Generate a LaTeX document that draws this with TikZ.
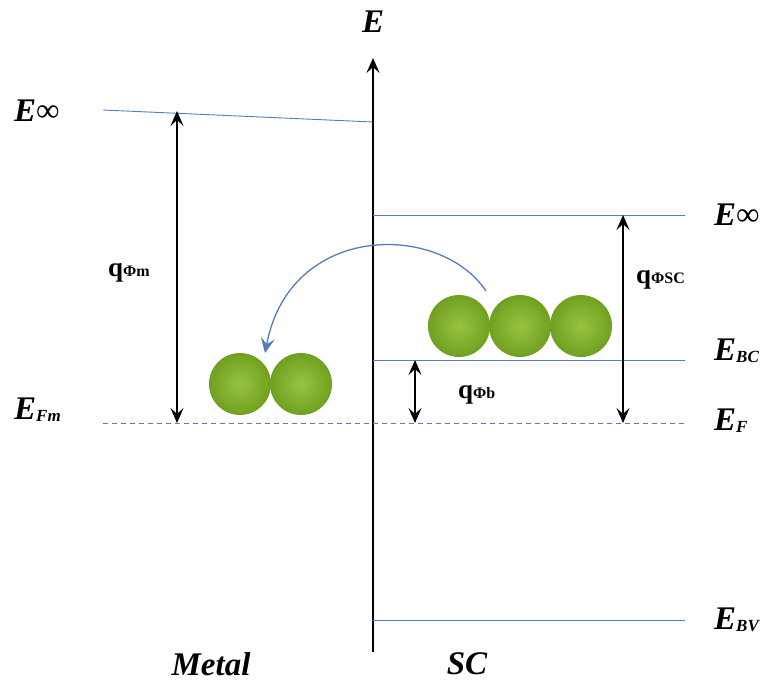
\documentclass[tikz,border=0pt]{standalone}
\usepackage{fontspec}
\setmainfont{Liberation Serif}
\usetikzlibrary{arrows.meta,positioning}

\definecolor{levelblue}{RGB}{84,126,186}
\definecolor{ballin}{RGB}{150,196,64}
\definecolor{ballout}{RGB}{112,160,32}

\newcommand{\lvl}[2]{{\bfseries\itshape #1\raisebox{-0.15ex}{\fontsize{17}{17}\selectfont #2}}}
\newcommand{\qphi}[1]{{\bfseries q\fontsize{16}{16}\selectfont Φ#1}}

\begin{document}
\begin{tikzpicture}[x=1pt,y=-1pt,
    level/.style={levelblue,line width=0.9pt},
    gap/.style={>={Stealth[length=15pt,width=13pt,inset=6pt]},<->,line width=1.4pt},
    label/.style={font=\fontsize{33}{33}\selectfont,inner sep=0pt},
    qlabel/.style={font=\fontsize{27}{27}\selectfont,inner sep=0pt},
    electron/.style={circle,minimum size=62pt,inner sep=0pt,
        inner color=ballin,outer color=ballout}]
    \useasboundingbox (0,0) rectangle (767,682);

    % energy axis
    \coordinate (ax0) at (373,652);
    \coordinate (ax1) at (373,58);
    \draw[>={Stealth[length=15pt,width=13pt,inset=6pt]},->,line width=2.4pt] (ax0) -- (ax1);
    \node[label] (E) at (373,22) {\bfseries\itshape E};

    % metal side
    \coordinate (vm0) at (103,110);
    \coordinate (vm1) at (373,122);
    \draw[level] (vm0) -- (vm1);
    \node[label,anchor=west] (Einfm) at (14,112) {\lvl{E}{}∞};
    \coordinate (ef0) at (103,423);
    \coordinate (ef1) at (685,423);
    \draw[level,dash pattern=on 5pt off 4pt] (ef0) -- (ef1);
    \node[label,anchor=west] (EFm) at (14,410) {\lvl{E}{Fm}};
    \coordinate (pm0) at (177,111);
    \coordinate (pm1) at (177,423);
    \draw[gap] (pm0) -- (pm1);
    \node[qlabel,anchor=west] (qm) at (108,273) {\qphi{m}};

    % semiconductor side
    \coordinate (vs0) at (373,215);
    \coordinate (vs1) at (685,215);
    \draw[level] (vs0) -- (vs1);
    \node[label,anchor=west] (Einfs) at (714,216) {\lvl{E}{}∞};
    \coordinate (bc0) at (373,360);
    \coordinate (bc1) at (685,360);
    \draw[level] (bc0) -- (bc1);
    \node[label,anchor=west] (EBC) at (714,351) {\lvl{E}{BC}};
    \node[label,anchor=west] (EF) at (714,421) {\lvl{E}{F}};
    \coordinate (bv0) at (373,620);
    \coordinate (bv1) at (685,620);
    \draw[level] (bv0) -- (bv1);
    \node[label,anchor=west] (EBV) at (714,620) {\lvl{E}{BV}};

    \coordinate (ps0) at (623,215);
    \coordinate (ps1) at (623,423);
    \draw[gap] (ps0) -- (ps1);
    \node[qlabel,anchor=west] (qsc) at (636,280) {\qphi{SC}};
    \coordinate (pb0) at (415,360);
    \coordinate (pb1) at (415,423);
    \draw[gap] (pb0) -- (pb1);
    \node[qlabel,anchor=west] (qb) at (458,395) {\qphi{b}};

    % electrons
    \node[electron] (m1) at (240,384) {};
    \node[electron] (m2) at (301,384) {};
    \node[electron] (s1) at (459,326) {};
    \node[electron] (s2) at (520,326) {};
    \node[electron] (s3) at (581,326) {};

    % transfer
    \coordinate (t0) at (486,291);
    \coordinate (t1) at (265,353);
    \draw[>={Stealth[length=15pt,width=14pt,inset=6pt]},->,levelblue,line width=1.3pt]
        (t0) .. controls (440,222) and (290,222) .. (t1);

    \node[label] (metal) at (211,664) {\bfseries\itshape Metal};
    \node[label] (sc) at (467,664) {\bfseries\itshape SC};
\end{tikzpicture}
\end{document}
